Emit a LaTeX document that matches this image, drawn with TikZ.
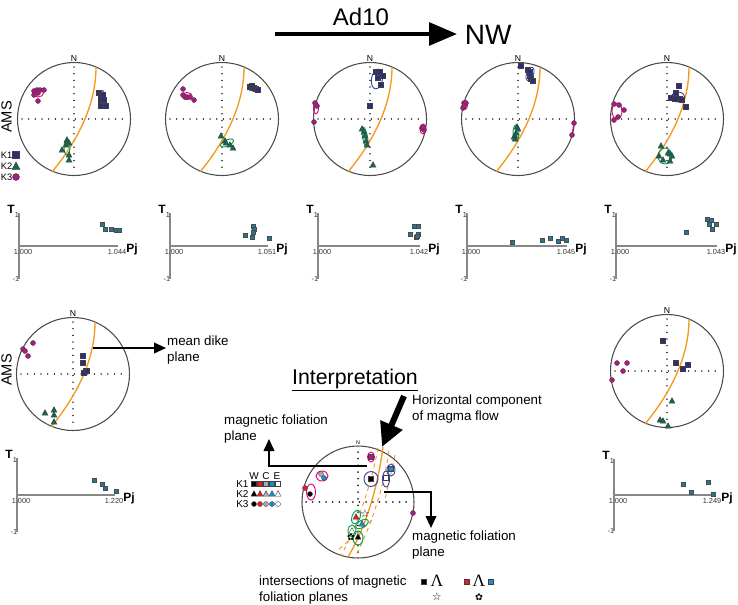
\documentclass[tikz,border=0pt]{standalone}
\usepackage{fontspec}
\setmainfont{Liberation Sans}
\newfontfamily\symfont{DejaVu Sans}
\newfontfamily\lamfont{Liberation Serif}
\usetikzlibrary{arrows.meta}

\definecolor{konecol}{RGB}{44,46,125}
\definecolor{ktwocol}{RGB}{18,105,78}
\definecolor{kthreecol}{RGB}{176,24,128}
\definecolor{ellone}{RGB}{62,64,170}
\definecolor{elltwo}{RGB}{0,160,80}
\definecolor{ellthree}{RGB}{228,0,130}
\definecolor{dikeor}{RGB}{244,152,30}
\definecolor{pjcol}{RGB}{38,118,150}
\definecolor{axgray}{RGB}{135,135,135}
\definecolor{legred}{RGB}{226,30,40}
\definecolor{legblue}{RGB}{28,140,210}
\definecolor{leggray}{RGB}{170,170,170}

\tikzset{every picture/.style={line width=0.75pt}}
\tikzset{
  netcircle/.style={draw=black!70,line width=0.8pt},
  crossdot/.style={draw=black!85,line width=1.1pt,line cap=round,dash pattern=on 0.01pt off 5pt},
  dikeplane/.style={draw=dikeor,line width=1pt},
  northlbl/.style={font=\fontsize{6.5}{7}\selectfont,inner sep=0.5pt,anchor=south},
  konemark/.style={fill=#1,draw=black!75,line width=0.3pt},
  ellipseline/.style={draw=#1,line width=0.7pt},
  pjmark/.style={fill=pjcol,draw=black!70,line width=0.4pt},
  pjaxis/.style={draw=axgray,line width=1.2pt},
  ticklbl/.style={font=\fontsize{5.5}{6}\selectfont,inner sep=0.5pt,text=black!80},
  boldlbl/.style={font=\bfseries\fontsize{9}{10}\selectfont,inner sep=0.5pt},
  lbl/.style={font=\fontsize{10}{12.5}\selectfont,align=left,inner sep=0.5pt},
  klbl/.style={font=\fontsize{7}{8}\selectfont,anchor=west,inner sep=0pt},
  sidelbl/.style={rotate=90,inner sep=0pt,font=\fontsize{11}{12}\selectfont},
  thinarrow/.style={draw=black,line width=1.2pt,-{Triangle[length=9pt,width=8pt]}},
}

% markers: K1 square, K2 triangle, K3 circle
\newcommand{\kone}[3][konecol]{\filldraw[konemark=#1] (#2-2.6,#3-2.6) rectangle (#2+2.6,#3+2.6);}
\newcommand{\ktwo}[3][ktwocol]{\filldraw[konemark=#1] (#2,#3-3.3) -- (#2+3,#3+2.2) -- (#2-3,#3+2.2) -- cycle;}
\newcommand{\kthree}[3][kthreecol]{\filldraw[konemark=#1] (#2,#3) circle (2.5);}
\newcommand{\pjpt}[2]{\filldraw[pjmark] (#1-2.2,#2-2.2) rectangle (#1+2.2,#2+2.2);}

% stereonet: centre x, centre y, name
\newcommand{\stereonet}[3]{%
  \begin{scope}[shift={(#1,#2)}]
    \draw[netcircle] (0,0) circle (56.5);
    \draw[crossdot] (0,-52) -- (0,52);
    \draw[crossdot] (-52,0) -- (52,0);
    \node[northlbl] (#3) at (0,-56) {N};
    \draw[dikeplane] (22,-52) .. controls (22,-18) and (7.3,17.3) .. (-22,53);
  \end{scope}}

% T-Pj plot: x0, y0, end x, half height, end label, name
\newcommand{\tpj}[6]{%
  \draw[pjaxis] (#1,#2-#4) -- (#1,#2+#4);
  \draw[pjaxis] (#1,#2) -- (#3,#2);
  \node[boldlbl] (#6T) at (#1-8,#2-#4-4) {T};
  \node[ticklbl] at (#1-2,#2-#4+2) {1};
  \node[ticklbl] at (#1-3,#2+#4) {-1};
  \node[ticklbl] at (#1+4,#2+6) {1.000};
  \node[ticklbl] at (#3-1,#2+6) {#5};
  \node[boldlbl] (#6P) at (#3+14,#2+3) {Pj};}

\begin{document}
\begin{tikzpicture}[x=0.75pt,y=0.75pt,yscale=-1,xscale=1]
\useasboundingbox (0,0) rectangle (738,604);

% Title arrow
\coordinate (flowA) at (275,34);
\coordinate (flowB) at (457,34);
\draw[draw=black,line width=3pt,-{Triangle[length=21pt,width=17pt]}] (flowA) -- (flowB);
\node[font=\fontsize{18}{20}\selectfont] (adten) at (361,17) {Ad10};
\node[font=\fontsize{21}{23}\selectfont,anchor=west] (nw) at (460,35) {NW};

% side labels
\node[sidelbl,anchor=north] (amsA) at (1,117) {AMS};
\node[sidelbl,anchor=north] (amsB) at (1,370) {AMS};

% K legend
\node[klbl] (kone) at (0.5,155) {K1};
\node[klbl] (ktwo) at (0.5,166) {K2};
\node[klbl] (kthree) at (0.5,177) {K3};
\filldraw[konemark=konecol] (12.5,151.5) rectangle (19.5,158.5);
\filldraw[konemark=ktwocol] (16,162) -- (20,169.5) -- (12,169.5) -- cycle;
\filldraw[konemark=kthreecol] (16,177) circle (3.5);

%Shape: Stereonets, top row
\stereonet{74}{119}{nA}
\stereonet{222}{119}{nB}
\stereonet{370}{119}{nC}
\stereonet{518}{119}{nD}
\stereonet{667}{119}{nE}

% net A
\draw[ellipseline=ellone] (102,99) ellipse [x radius=3.5,y radius=8.5];
\draw[ellipseline=ellthree] (38,93) ellipse [x radius=5.5,y radius=4];
\draw[ellipseline=elltwo] (67,147) ellipse [x radius=3,y radius=8];
\kone{99}{93} \kone{101}{95} \kone{103}{95} \kone{101}{100} \kone{104}{100} \kone{101}{106} \kone{106}{106}
\kthree{34}{91} \kthree{37}{90} \kthree{40}{90} \kthree{44}{90} \kthree{38}{93} \kthree{38}{101} \kthree{34}{95}
\ktwo{67}{140} \ktwo{69}{143} \ktwo{66}{145} \ktwo{62}{150} \ktwo{69}{155} \ktwo{69}{160}

% net B
\draw[ellipseline=ellone] (253,88) ellipse [x radius=5,y radius=3];
\draw[ellipseline=ellthree] (187,96) ellipse [x radius=5,y radius=3.5];
\draw[ellipseline=elltwo] (227,143) ellipse [x radius=7,y radius=3,rotate=-25];
\kone{250}{87} \kone{252}{86} \kone{254}{88} \kone{256}{89} \kone{258}{90}
\kthree{183}{89} \kthree{183}{95} \kthree{185}{97} \kthree{187}{97} \kthree{194}{100} \kthree{190}{97}
\ktwo{221}{136} \ktwo{225}{141} \ktwo{226}{143} \ktwo{230}{145} \ktwo{233}{148}

% net C
\draw[ellipseline=ellone] (377,79) ellipse [x radius=5.5,y radius=10,rotate=10];
\draw[ellipseline=ellthree] (316,108) ellipse [x radius=2.5,y radius=6];
\draw[ellipseline=ellthree] (423,129) ellipse [x radius=3,y radius=5];
\draw[ellipseline=elltwo] (365,137) ellipse [x radius=2.5,y radius=10,rotate=-10];
\kone{376}{72} \kone{380}{72} \kone{383}{76} \kone{378}{78} \kone{381}{85} \kone{370}{106}
\kthree{315}{103} \kthree{317}{106} \kthree{314}{122} \kthree{422}{128} \kthree{424}{130} \kthree{423}{127}
\ktwo{362}{129} \ktwo{364}{132} \ktwo{365}{136} \ktwo{366}{141} \ktwo{367}{145} \ktwo{373}{165}

% net D
\draw[ellipseline=ellone] (530,74) ellipse [x radius=3.5,y radius=7,rotate=20];
\draw[ellipseline=ellthree] (465,105) ellipse [x radius=2.5,y radius=4.5];
\draw[ellthree,line width=0.7pt] (574,123) -- (572,135);
\draw[ellipseline=elltwo] (516,133) ellipse [x radius=3,y radius=8];
\kone{521}{66} \kone{528}{70} \kone{530}{72} \kone{530}{76} \kone{531}{79} \kone{533}{81}
\kthree{464}{103} \kthree{466}{103} \kthree{463}{108} \kthree{464}{106} \kthree{574}{123} \kthree{572}{135}
\ktwo{517}{127} \ktwo{518}{129} \ktwo{516}{133} \ktwo{515}{136} \ktwo{514}{137} \ktwo{515}{139}

% net E
\draw[ellipseline=ellone] (678,97) ellipse [x radius=6.5,y radius=5];
\draw[ellipseline=ellthree] (617,111) ellipse [x radius=5,y radius=8];
\draw[ellipseline=elltwo] (665,156) ellipse [x radius=7,y radius=8];
\kone{679}{86} \kone{676}{93} \kone{671}{98} \kone{675}{99} \kone{680}{99} \kone{682}{100} \kone{686}{107}
\kthree{614}{104} \kthree{619}{105} \kthree{624}{110} \kthree{618}{117} \kthree{614}{120}
\ktwo{661}{146} \ktwo{659}{156} \ktwo{663}{160} \ktwo{668}{153} \ktwo{670}{154} \ktwo{672}{156} \ktwo{670}{161}

% T-Pj plots, top row
\tpj{19}{246}{118}{33}{1.044}{pA}
\pjpt{102}{224} \pjpt{105}{229} \pjpt{111}{229} \pjpt{116}{230} \pjpt{119}{230}
\tpj{170}{246}{268}{33}{1.051}{pB}
\pjpt{245}{235} \pjpt{253}{226} \pjpt{254}{229} \pjpt{253}{232} \pjpt{252}{237} \pjpt{269}{238}
\tpj{318}{246}{420}{33}{1.042}{pC}
\pjpt{414}{226} \pjpt{418}{226} \pjpt{410}{234} \pjpt{416}{237} \pjpt{418}{234} \pjpt{417}{236}
\tpj{467}{246}{567}{33}{1.045}{pD}
\pjpt{512}{242} \pjpt{542}{240} \pjpt{550}{238} \pjpt{558}{241} \pjpt{562}{238} \pjpt{566}{240}
\tpj{616}{246}{717}{33}{1.043}{pE}
\pjpt{686}{232} \pjpt{707}{219} \pjpt{711}{220} \pjpt{716}{224} \pjpt{709}{224} \pjpt{712}{229}

%Shape: Stereonets, second row
\stereonet{73}{374}{nF}
\kone{83}{356} \kone{83}{363} \kone{86}{371} \kone{84}{373} \kone{87}{371}
\kthree{23}{349} \kthree{25}{351} \kthree{28}{356} \kthree{33}{343}
\ktwo{45}{413} \ktwo{54}{410} \ktwo{54}{415} \ktwo{54}{422}
\coordinate (dikept) at (93,348);
\node[lbl,anchor=west] (meandike) at (166,350) {mean dike\\plane};
\draw[thinarrow] (dikept) -- (dikept -| meandike.west);

\stereonet{667}{371}{nG}
\kone{663}{341} \kone{676}{363} \kone{688}{365} \kone{683}{369}
\kthree{617}{363} \kthree{627}{363} \kthree{623}{371} \kthree{612}{380}
\ktwo{672}{401} \ktwo{660}{420} \ktwo{663}{421} \ktwo{668}{426}

\tpj{17}{495}{115}{37}{1.220}{pF}
\pjpt{94}{480} \pjpt{102}{484} \pjpt{105}{488} \pjpt{116}{491}
\tpj{614}{495}{713}{36}{1.249}{pG}
\pjpt{683}{484} \pjpt{708}{482} \pjpt{691}{492} \pjpt{713}{494}

% Interpretation
\node[font=\fontsize{16}{18}\selectfont] (interp) at (355,380) {\underline{Interpretation}};
\draw[netcircle] (358,502) circle (56);
\draw[crossdot,line width=1.5pt] (358,452) -- (358,556);
\draw[crossdot,line width=1.5pt] (306,502) -- (410,502);
\node[northlbl,font=\fontsize{4}{5}\selectfont] (nH) at (358,446) {N};
\draw[dikeor,line width=0.7pt,dashed] (378,448) .. controls (372,480) and (360,520) .. (341,556);
\draw[dikeor,line width=0.7pt,dashed] (389,451) .. controls (384,485) and (372,525) .. (355,557);
\draw[dikeor,line width=0.7pt,dashed] (395,455) .. controls (392,470) and (388,485) .. (385,500);
\draw[dikeor,line width=0.7pt,dashed] (372,520) -- (336,552);
\draw[dikeor,line width=1pt] (383,447) .. controls (378,485) and (367,525) .. (348,557);
\draw[ellipseline=ellthree] (371,457) ellipse [x radius=3.5,y radius=5];
\kone[kthreecol]{371}{457}
\draw[ellipseline=ellone] (391,470) ellipse [x radius=4,y radius=6];
\kone[legblue]{391}{469}
\draw[ellipseline=ellone] (371,479) ellipse [x radius=7,y radius=7.5];
\kone[black]{371}{479}
\draw[ellipseline=ellone] (386,479) ellipse [x radius=3.5,y radius=8];
\kone[white]{386}{478}
\draw[ellipseline=ellthree] (322,476) ellipse [x radius=6,y radius=5];
\kthree[leggray]{321}{474} \kthree[legblue]{324}{478}
\draw[ellipseline=ellthree] (311,492) ellipse [x radius=4.5,y radius=8];
\kthree[legred]{305}{488} \kthree[black]{310}{494}
\draw[ellipseline=elltwo] (356,517) ellipse [x radius=4,y radius=7,rotate=20];
\ktwo[legred]{356}{517}
\draw[ellipseline=elltwo] (362,524) ellipse [x radius=7,y radius=3.5,rotate=-30];
\ktwo[legblue]{362}{524}
\draw[ellipseline=elltwo] (352,531) ellipse [x radius=4,y radius=6];
\ktwo[white]{352}{531}
\draw[ellipseline=elltwo] (358,538) ellipse [x radius=5,y radius=7];
\ktwo[black]{358}{537}
\node[font=\symfont\fontsize{8}{8}\selectfont,inner sep=0pt] (starA) at (365,514) {☆};
\node[font=\symfont\fontsize{7}{8}\selectfont,inner sep=0pt] (gearA) at (351,537) {✿};
\kthree{413}{513}

% W C E legend
\node[font=\fontsize{7.5}{8}\selectfont,inner sep=0pt] (legW) at (254,476) {W};
\node[font=\fontsize{7.5}{8}\selectfont,inner sep=0pt] (legC) at (266,476) {C};
\node[font=\fontsize{7.5}{8}\selectfont,inner sep=0pt] (legE) at (277,476) {E};
\node[font=\fontsize{7.5}{8}\selectfont,inner sep=0pt,anchor=east] (legKone) at (249,484) {K1};
\node[font=\fontsize{7.5}{8}\selectfont,inner sep=0pt,anchor=east] (legKtwo) at (249,494) {K2};
\node[font=\fontsize{7.5}{8}\selectfont,inner sep=0pt,anchor=east] (legKthree) at (249,504) {K3};
\kone[black]{254}{484} \kone[legred]{260}{484} \kone[leggray]{266}{484} \kone[legblue]{272}{484} \kone[white]{278}{484}
\ktwo[black]{254}{494} \ktwo[legred]{260}{494} \ktwo[leggray]{266}{494} \ktwo[legblue]{272}{494} \ktwo[white]{278}{494}
\kthree[black]{254}{504} \kthree[legred]{260}{504} \kthree[leggray]{266}{504} \kthree[legblue]{272}{504} \kthree[white]{278}{504}

% foliation and flow labels
\node[lbl,anchor=west] (flowlbl) at (411,409) {Horizontal component\\of magma flow};
\coordinate (flowtail) at (404,396);
\coordinate (flowtip) at (382,447);
\draw[draw=black,line width=4.5pt,-{Triangle[length=18pt,width=17pt]}] (flowtail) -- (flowtip);
\node[lbl,anchor=west] (folA) at (223,429) {magnetic foliation\\plane};
\coordinate (folAstart) at (367,466);
\coordinate (folAend) at (269,439);
\draw[thinarrow,line width=1.3pt] (folAstart) -| (folAend);
\node[lbl,anchor=west] (folB) at (411,545) {magnetic foliation\\plane};
\coordinate (folBstart) at (384,492);
\coordinate (folBend) at (431,528);
\draw[thinarrow,line width=1.3pt] (folBstart) -| (folBend);

% intersections legend
\node[lbl,anchor=west] (intlbl) at (258,590) {intersections of magnetic\\foliation planes};
\kone[black]{424}{582}
\node[font=\lamfont\fontsize{13}{13}\selectfont,inner sep=0pt] (lamA) at (437,581) {Λ};
\node[font=\symfont\fontsize{8}{8}\selectfont,inner sep=0pt] (starB) at (437,597) {☆};
\kone[legred]{467}{582}
\node[font=\lamfont\fontsize{13}{13}\selectfont,inner sep=0pt] (lamB) at (479,581) {Λ};
\kone[legblue]{491}{582}
\node[font=\symfont\fontsize{7}{8}\selectfont,inner sep=0pt] (gearB) at (479,597) {✿};

\end{tikzpicture}
\end{document}
